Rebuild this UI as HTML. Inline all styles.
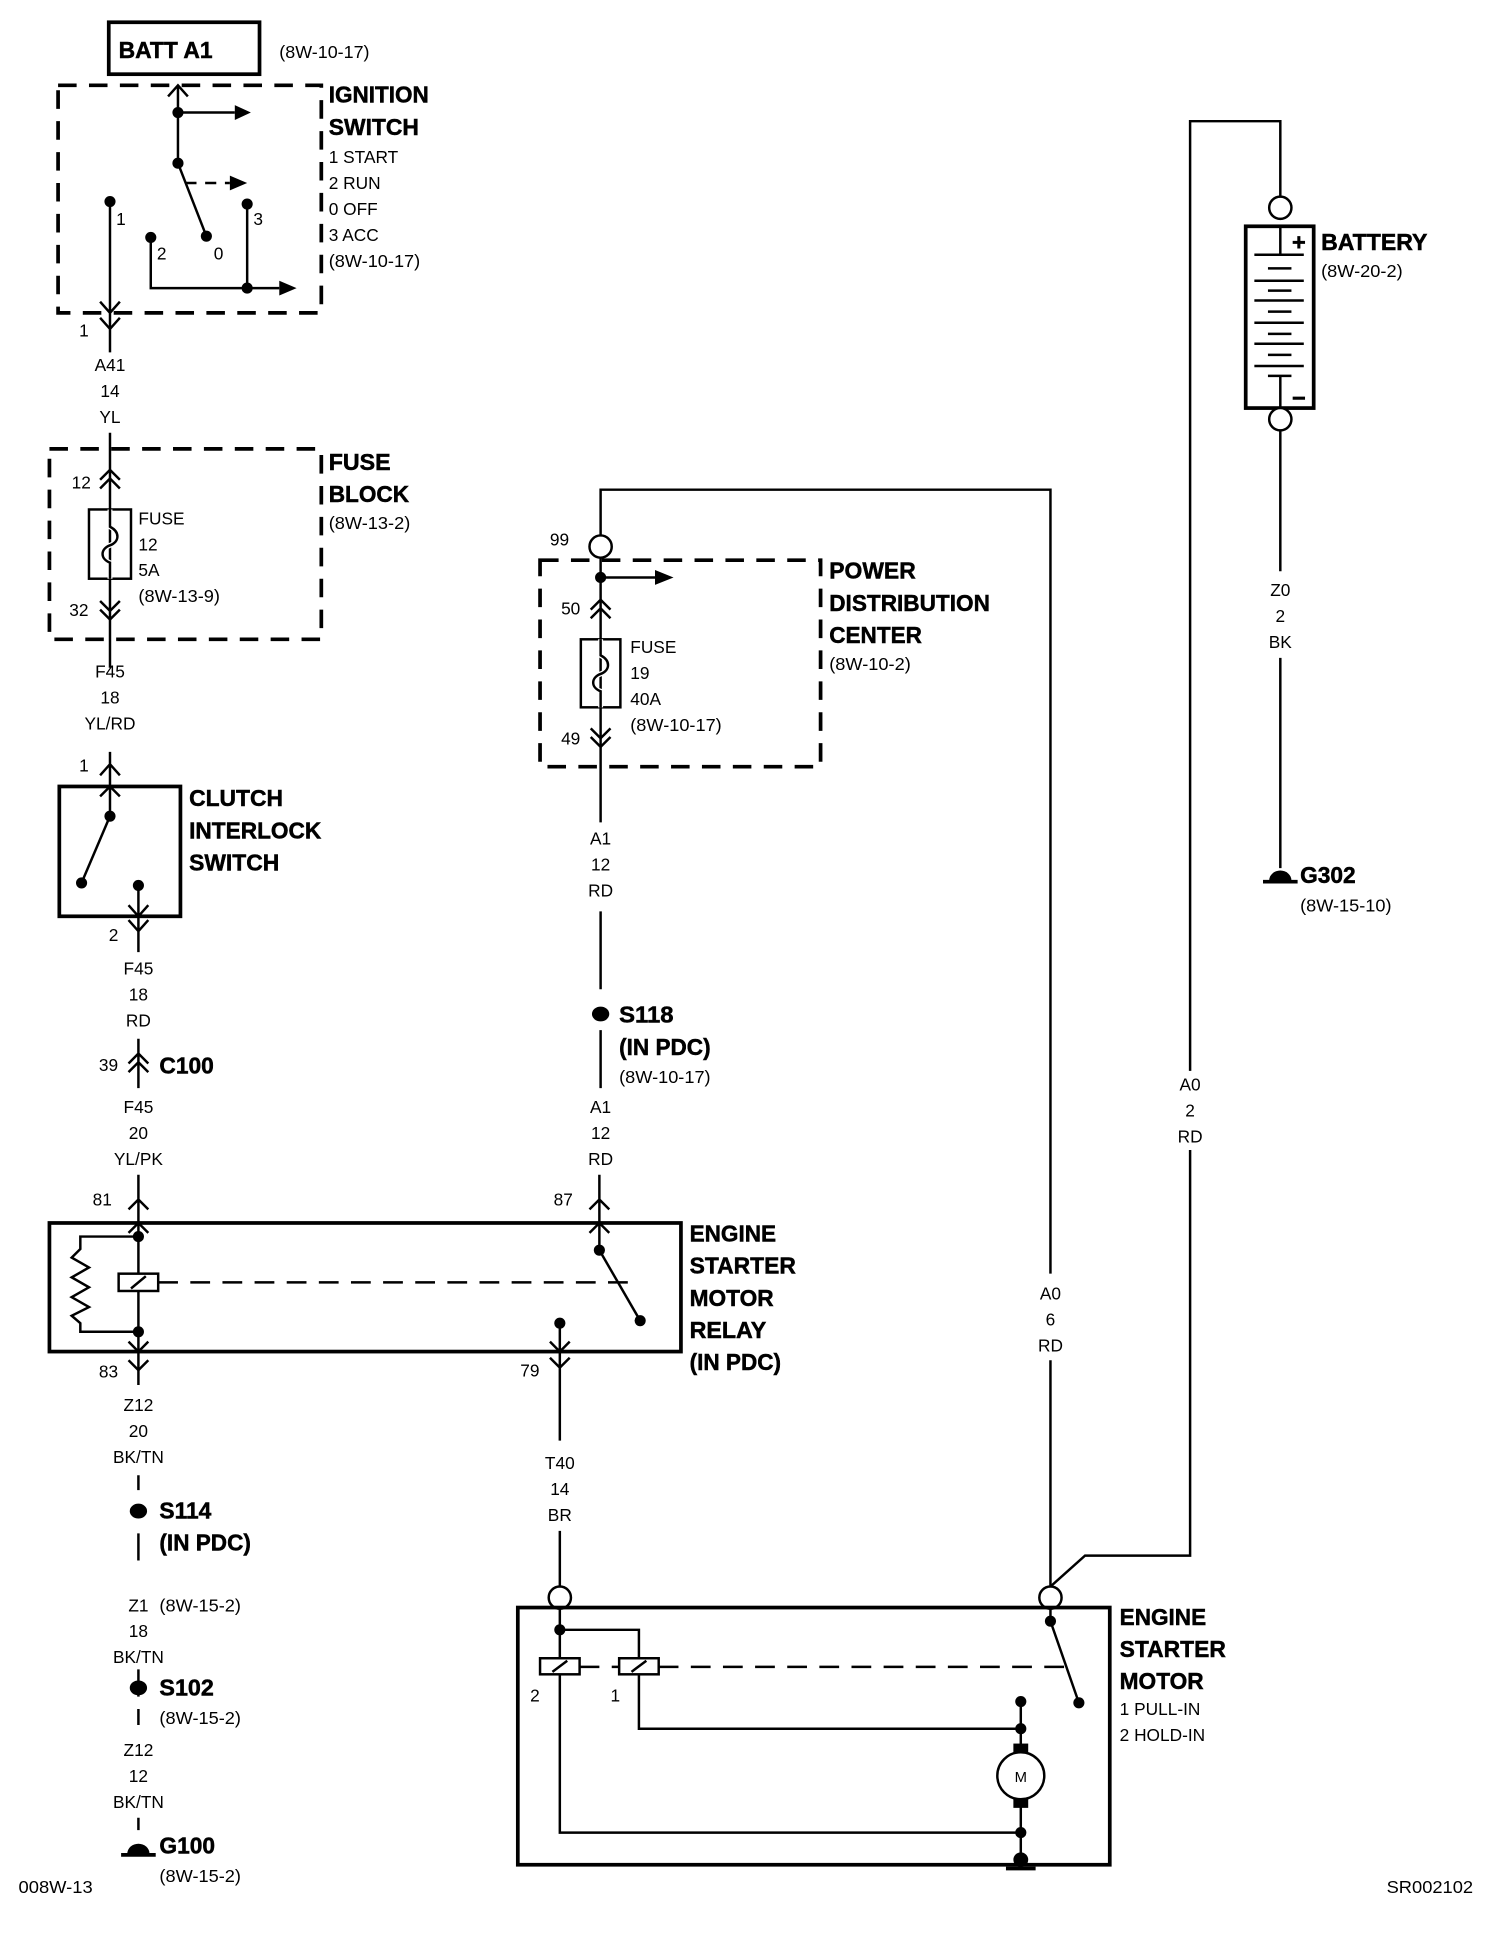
<!DOCTYPE html>
<html><head><meta charset="utf-8"><style>
html,body{margin:0;padding:0;background:#fff}
svg{display:block}
text{font-family:"Liberation Sans",Arial,sans-serif;fill:#000}
.b{font-weight:bold;font-size:19px;stroke:#000;stroke-width:0.4px}
.s{font-size:14px}
.c{text-anchor:middle}
</style></head><body>
<svg width="1504" height="1934" viewBox="0 0 1217 1564" preserveAspectRatio="none" xmlns="http://www.w3.org/2000/svg">
<g fill="none" stroke="#000" stroke-width="2">
<rect x="88" y="18" width="122" height="42" stroke-width="3"/>
<rect x="47" y="69" width="213" height="184" stroke-width="3" stroke-dasharray="15,10"/>
<path d="M144 69 L144 132 M136 78 L144 69 L152 78"/>
<path d="M144 91 L190 91"/>
<path d="M144 132 L167 191"/>
<path d="M150 148 L186 148" stroke-dasharray="9,7"/>
<path d="M89 163 L89 266 M81 244 L89 253 L97 244"/>
<path d="M122 192 L122 233 L226 233"/>
<path d="M200 165 L200 233"/>
<path d="M81 257 L89 266 L97 257 M89 266 L89 285"/>
<path d="M89 350 L89 540"/>
<rect x="40" y="363" width="220" height="154" stroke-width="3" stroke-dasharray="15,10"/>
<path d="M81 388 L89 380 L97 388 M81 395 L89 387 L97 395"/>
<rect x="72" y="412" width="34" height="56"/>
<path d="M89 412 L89 426 C97 430 97 438 89 441 C81 444 81 452 89 455 L89 468" stroke="#fff" stroke-width="4"/>
<path d="M89 412 L89 426 C97 430 97 438 89 441 C81 444 81 452 89 455 L89 468"/>
<path d="M81 486 L89 494 L97 486 M81 493 L89 501 L97 493"/>
<path d="M89 608 L89 660 M81 627 L89 618 L97 627 M81 644 L89 636 L97 644"/>
<rect x="48" y="636" width="98" height="105" stroke-width="3"/>
<path d="M89 660 L66 714"/>
<path d="M112 716 L112 770 M104 732 L112 741 L120 732 M104 744 L112 753 L120 744"/>
<path d="M112 840 L112 880 M104 860 L112 852 L120 860 M104 867 L112 859 L120 867"/>
<path d="M112 950 L112 1120 M104 978 L112 970 L120 978 M104 997 L112 989 L120 997"/>
<rect x="40" y="989" width="511" height="104" stroke-width="3"/>
<path d="M112 1000 L65 1000 L65 1010 L58 1017 L72 1025 L58 1033 L72 1041 L58 1049 L72 1057 L58 1064 L65 1070 L65 1077 L112 1077"/>
<rect x="96" y="1030" width="32" height="14" fill="#fff"/>
<path d="M106 1042 L118 1032"/>
<path d="M128 1037 L510 1037" stroke-dasharray="16,10"/>
<path d="M104 1085 L112 1093 L120 1085 M104 1100 L112 1108 L120 1100"/>
<path d="M485 950 L485 1011 M477 978 L485 970 L493 978 M477 997 L485 989 L493 997"/>
<path d="M485 1011 L518 1068"/>
<path d="M453 1070 L453 1165 M445 1085 L453 1093 L461 1085 M445 1098 L453 1106 L461 1098"/>
<path d="M112 1193 L112 1205 M112 1240 L112 1262 M112 1350 L112 1372 M112 1382 L112 1395 M112 1470 L112 1480"/>
<path d="M486 433 L486 396 L850 396 L850 1030 M850 1100 L850 1283"/>
<circle cx="486" cy="442" r="9" fill="#fff"/>
<rect x="437" y="453" width="227" height="167" stroke-width="3" stroke-dasharray="15,10"/>
<path d="M486 451 L486 665 M486 467 L530 467"/>
<path d="M478 493 L486 485 L494 493 M478 500 L486 492 L494 500"/>
<rect x="470" y="517" width="32" height="55"/>
<path d="M486 517 L486 530 C494 534 494 542 486 545 C478 548 478 556 486 559 L486 572" stroke="#fff" stroke-width="4"/>
<path d="M486 517 L486 530 C494 534 494 542 486 545 C478 548 478 556 486 559 L486 572"/>
<path d="M478 589 L486 597 L494 589 M478 596 L486 604 L494 596"/>
<path d="M486 737 L486 800 M486 833 L486 880"/>
<path d="M453 1238 L453 1283"/>
<circle cx="453" cy="1292" r="9" fill="#fff"/>
<circle cx="850" cy="1292" r="9" fill="#fff"/>
<rect x="419" y="1300" width="479" height="208" stroke-width="3"/>
<path d="M453 1301 L453 1341 M453 1318 L517 1318 L517 1341"/>
<rect x="437" y="1341" width="32" height="13" fill="#fff"/>
<rect x="501" y="1341" width="32" height="13" fill="#fff"/>
<path d="M447 1352 L459 1343 M511 1352 L523 1343"/>
<path d="M469 1348 L501 1348 M533 1348 L865 1348" stroke-dasharray="16,10"/>
<path d="M453 1354 L453 1482 L826 1482 M517 1354 L517 1398 L826 1398"/>
<path d="M826 1376 L826 1417 M826 1455 L826 1504"/>
<circle cx="826" cy="1436" r="19" fill="#fff"/>
<path d="M814 1511 L838 1511" stroke-width="3"/>
<path d="M850 1301 L850 1311 L873 1377"/>
<path d="M850 1283 L878 1258 L963 1258 L963 930 M963 866 L963 98 L1036 98 L1036 159"/>
<circle cx="1036" cy="168" r="9" fill="#fff"/>
<rect x="1008" y="183" width="55" height="147" stroke-width="3"/>
<circle cx="1036" cy="339" r="9" fill="#fff"/>
<path d="M1036 183 L1036 206 M1015 206 L1055 206 M1026 217 L1045 217 M1015 227 L1055 227 M1026 235 L1045 235 M1015 243 L1055 243 M1026 252 L1045 252 M1015 261 L1055 261 M1026 270 L1045 270 M1015 278 L1055 278 M1026 287 L1045 287 M1015 296 L1055 296 M1026 304 L1045 304 M1036 304 L1036 330"/>
<path d="M1036 348 L1036 462 M1036 532 L1036 702"/>
<path d="M1046 196 L1056 196 M1051 191 L1051 201 M1046 322 L1056 322" stroke-width="2.5"/>
<path d="M1022 713 L1050 713 M98 1500 L126 1500" stroke-width="3"/>
</g>
<g fill="#000">
<polygon points="190,85 203,91 190,97"/>
<polygon points="186,142 200,148 186,154"/>
<polygon points="226,227 240,233 226,239"/>
<polygon points="530,461 545,467 530,473"/>
<circle cx="144" cy="91" r="4.5"/><circle cx="144" cy="132" r="4.5"/><circle cx="167" cy="191" r="4.5"/>
<circle cx="89" cy="163" r="4.5"/><circle cx="122" cy="192" r="4.5"/><circle cx="200" cy="165" r="4.5"/><circle cx="200" cy="233" r="4.5"/>
<circle cx="89" cy="660" r="4.5"/><circle cx="66" cy="714" r="4.5"/><circle cx="112" cy="716" r="4.5"/>
<circle cx="112" cy="1000" r="4.5"/><circle cx="112" cy="1077" r="4.5"/>
<circle cx="485" cy="1011" r="4.5"/><circle cx="518" cy="1068" r="4.5"/><circle cx="453" cy="1070" r="4.5"/>
<circle cx="486" cy="467" r="4.5"/>
<ellipse cx="486" cy="820" rx="7" ry="6"/>
<ellipse cx="112" cy="1222" rx="7" ry="6"/>
<ellipse cx="112" cy="1365" rx="7" ry="6"/>
<path d="M103 1499 A9 8 0 0 1 121 1499 Z"/>
<path d="M1027 712 A9 8 0 0 1 1045 712 Z"/>
<circle cx="453" cy="1318" r="4.5"/>
<circle cx="826" cy="1376" r="4.5"/><circle cx="826" cy="1398" r="4.5"/><circle cx="826" cy="1482" r="4.5"/><circle cx="826" cy="1504" r="6"/>
<rect x="820" y="1410" width="12" height="8"/><rect x="820" y="1454" width="12" height="8"/>
<circle cx="850" cy="1311" r="4.5"/><circle cx="873" cy="1377" r="4.5"/>
</g>
<text class="b" x="96" y="47" textLength="76" lengthAdjust="spacingAndGlyphs">BATT A1</text>
<text class="s" x="226" y="47" textLength="73" lengthAdjust="spacingAndGlyphs">(8W-10-17)</text>
<text class="b" x="266" y="83" textLength="81" lengthAdjust="spacingAndGlyphs">IGNITION</text>
<text class="b" x="266" y="109" textLength="73" lengthAdjust="spacingAndGlyphs">SWITCH</text>
<text class="s" x="266" y="132">1 START</text>
<text class="s" x="266" y="153">2 RUN</text>
<text class="s" x="266" y="174">0 OFF</text>
<text class="s" x="266" y="195">3 ACC</text>
<text class="s" x="266" y="216" textLength="74" lengthAdjust="spacingAndGlyphs">(8W-10-17)</text>
<text class="s" x="94" y="182">1</text><text class="s" x="127" y="210">2</text><text class="s" x="173" y="210">0</text><text class="s" x="205" y="182">3</text>
<text class="s" x="64" y="272">1</text>
<text class="s c" x="89" y="300">A41</text><text class="s c" x="89" y="321">14</text><text class="s c" x="89" y="342">YL</text>
<text class="b" x="266" y="380" textLength="50" lengthAdjust="spacingAndGlyphs">FUSE</text>
<text class="b" x="266" y="406" textLength="65" lengthAdjust="spacingAndGlyphs">BLOCK</text>
<text class="s" x="266" y="428" textLength="66" lengthAdjust="spacingAndGlyphs">(8W-13-2)</text>
<text class="s" x="58" y="395">12</text>
<text class="s" x="112" y="424">FUSE</text><text class="s" x="112" y="445">12</text><text class="s" x="112" y="466">5A</text>
<text class="s" x="112" y="487" textLength="66" lengthAdjust="spacingAndGlyphs">(8W-13-9)</text>
<text class="s" x="56" y="498">32</text>
<text class="s c" x="89" y="548">F45</text><text class="s c" x="89" y="569">18</text><text class="s c" x="89" y="590">YL/RD</text>
<text class="s" x="64" y="624">1</text>
<text class="b" x="153" y="652" textLength="76" lengthAdjust="spacingAndGlyphs">CLUTCH</text>
<text class="b" x="153" y="678" textLength="107" lengthAdjust="spacingAndGlyphs">INTERLOCK</text>
<text class="b" x="153" y="704" textLength="73" lengthAdjust="spacingAndGlyphs">SWITCH</text>
<text class="s" x="88" y="761">2</text>
<text class="s c" x="112" y="788">F45</text><text class="s c" x="112" y="809">18</text><text class="s c" x="112" y="830">RD</text>
<text class="s" x="80" y="866">39</text>
<text class="b" x="129" y="868" textLength="44" lengthAdjust="spacingAndGlyphs">C100</text>
<text class="s c" x="112" y="900">F45</text><text class="s c" x="112" y="921">20</text><text class="s c" x="112" y="942">YL/PK</text>
<text class="s" x="75" y="975">81</text>
<text class="b" x="558" y="1004" textLength="70" lengthAdjust="spacingAndGlyphs">ENGINE</text>
<text class="b" x="558" y="1030" textLength="86" lengthAdjust="spacingAndGlyphs">STARTER</text>
<text class="b" x="558" y="1056" textLength="68" lengthAdjust="spacingAndGlyphs">MOTOR</text>
<text class="b" x="558" y="1082" textLength="62" lengthAdjust="spacingAndGlyphs">RELAY</text>
<text class="b" x="558" y="1108" textLength="74" lengthAdjust="spacingAndGlyphs">(IN PDC)</text>
<text class="s" x="80" y="1114">83</text>
<text class="s c" x="112" y="1141">Z12</text><text class="s c" x="112" y="1162">20</text><text class="s c" x="112" y="1183">BK/TN</text>
<text class="b" x="129" y="1228" textLength="42" lengthAdjust="spacingAndGlyphs">S114</text>
<text class="b" x="129" y="1254" textLength="74" lengthAdjust="spacingAndGlyphs">(IN PDC)</text>
<text class="s c" x="112" y="1303">Z1</text>
<text class="s" x="129" y="1303" textLength="66" lengthAdjust="spacingAndGlyphs">(8W-15-2)</text>
<text class="s c" x="112" y="1324">18</text><text class="s c" x="112" y="1345">BK/TN</text>
<text class="b" x="129" y="1371" textLength="44" lengthAdjust="spacingAndGlyphs">S102</text>
<text class="s" x="129" y="1394" textLength="66" lengthAdjust="spacingAndGlyphs">(8W-15-2)</text>
<text class="s c" x="112" y="1420">Z12</text><text class="s c" x="112" y="1441">12</text><text class="s c" x="112" y="1462">BK/TN</text>
<text class="b" x="129" y="1499" textLength="45" lengthAdjust="spacingAndGlyphs">G100</text>
<text class="s" x="129" y="1522" textLength="66" lengthAdjust="spacingAndGlyphs">(8W-15-2)</text>
<text class="s" x="15" y="1531" textLength="60" lengthAdjust="spacingAndGlyphs">008W-13</text>
<text class="s" x="445" y="441">99</text>
<text class="b" x="671" y="468" textLength="70" lengthAdjust="spacingAndGlyphs">POWER</text>
<text class="b" x="671" y="494" textLength="130" lengthAdjust="spacingAndGlyphs">DISTRIBUTION</text>
<text class="b" x="671" y="520" textLength="75" lengthAdjust="spacingAndGlyphs">CENTER</text>
<text class="s" x="671" y="542" textLength="66" lengthAdjust="spacingAndGlyphs">(8W-10-2)</text>
<text class="s" x="454" y="497">50</text>
<text class="s" x="510" y="528">FUSE</text><text class="s" x="510" y="549">19</text><text class="s" x="510" y="570">40A</text>
<text class="s" x="510" y="591" textLength="74" lengthAdjust="spacingAndGlyphs">(8W-10-17)</text>
<text class="s" x="454" y="602">49</text>
<text class="s c" x="486" y="683">A1</text><text class="s c" x="486" y="704">12</text><text class="s c" x="486" y="725">RD</text>
<text class="b" x="501" y="827" textLength="44" lengthAdjust="spacingAndGlyphs">S118</text>
<text class="b" x="501" y="853" textLength="74" lengthAdjust="spacingAndGlyphs">(IN PDC)</text>
<text class="s" x="501" y="876" textLength="74" lengthAdjust="spacingAndGlyphs">(8W-10-17)</text>
<text class="s c" x="486" y="900">A1</text><text class="s c" x="486" y="921">12</text><text class="s c" x="486" y="942">RD</text>
<text class="s" x="448" y="975">87</text>
<text class="s" x="421" y="1113">79</text>
<text class="s c" x="453" y="1188">T40</text><text class="s c" x="453" y="1209">14</text><text class="s c" x="453" y="1230">BR</text>
<text class="s c" x="850" y="1051">A0</text><text class="s c" x="850" y="1072">6</text><text class="s c" x="850" y="1093">RD</text>
<text class="s c" x="963" y="882">A0</text><text class="s c" x="963" y="903">2</text><text class="s c" x="963" y="924">RD</text>
<text class="s" x="429" y="1376">2</text><text class="s" x="494" y="1376">1</text>
<text x="826" y="1441" style="font-size:12px" class="c">M</text>
<text class="b" x="906" y="1314" textLength="70" lengthAdjust="spacingAndGlyphs">ENGINE</text>
<text class="b" x="906" y="1340" textLength="86" lengthAdjust="spacingAndGlyphs">STARTER</text>
<text class="b" x="906" y="1366" textLength="68" lengthAdjust="spacingAndGlyphs">MOTOR</text>
<text class="s" x="906" y="1387">1 PULL-IN</text>
<text class="s" x="906" y="1408">2 HOLD-IN</text>
<text class="b" x="1069" y="202" textLength="86" lengthAdjust="spacingAndGlyphs">BATTERY</text>
<text class="s" x="1069" y="224" textLength="66" lengthAdjust="spacingAndGlyphs">(8W-20-2)</text>
<text class="s c" x="1036" y="482">Z0</text><text class="s c" x="1036" y="503">2</text><text class="s c" x="1036" y="524">BK</text>
<text class="b" x="1052" y="714" textLength="45" lengthAdjust="spacingAndGlyphs">G302</text>
<text class="s" x="1052" y="737" textLength="74" lengthAdjust="spacingAndGlyphs">(8W-15-10)</text>
<text class="s" x="1122" y="1531" textLength="70" lengthAdjust="spacingAndGlyphs">SR002102</text>
</svg>
</body></html>
